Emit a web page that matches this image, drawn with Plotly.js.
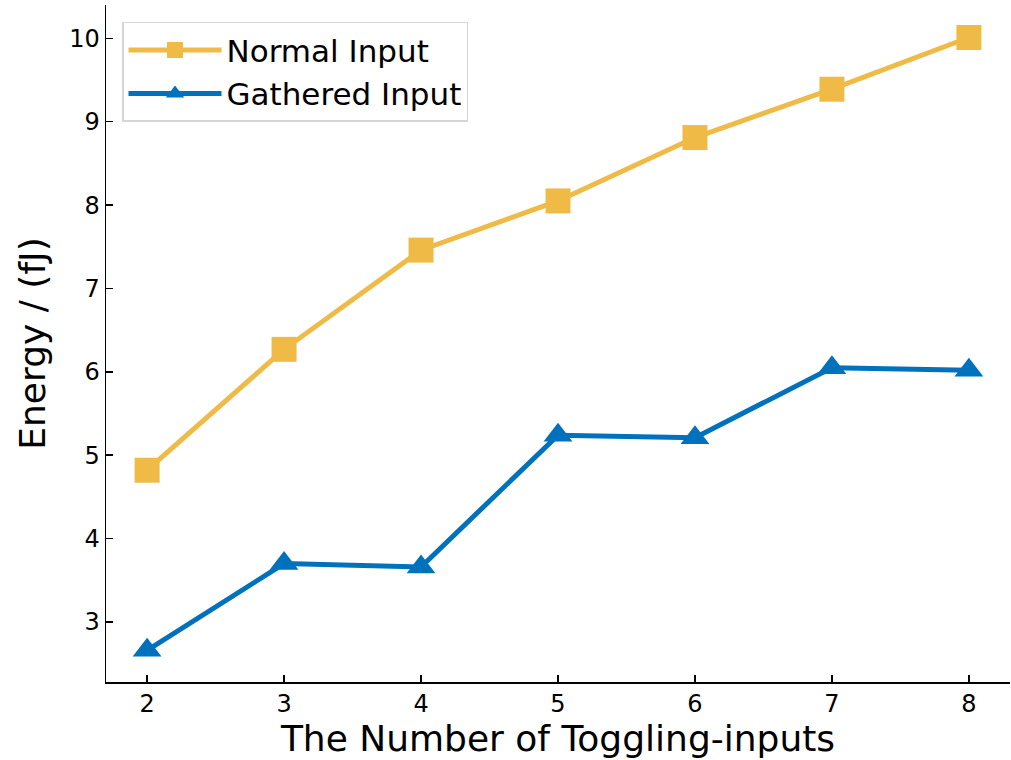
<!DOCTYPE html>
<html>
<head>
<meta charset="utf-8">
<script src="https://cdn.plot.ly/plotly-3.0.1.min.js"></script>
<style>body{margin:0;padding:0;background:#fff;}#chart{width:1011px;height:760px;}</style>
</head>
<body>
<div id="chart"></div>
<script>
const toggles = [2, 3, 4, 5, 6, 7, 8];
const normalInput = [4.82, 6.27, 7.46, 8.05, 8.81, 9.39, 10.01];
const gatheredInput = [2.66, 3.70, 3.66, 5.24, 5.21, 6.05, 6.02];
const xTickLabels = ['2', '3', '4', '5', '6', '7', '8'];
const yTicks = [3, 4, 5, 6, 7, 8, 9, 10];

const traces = [
  {
    x: toggles, y: normalInput, name: 'Normal Input', mode: 'lines+markers',
    line: {color: '#EFBB46', width: 5},
    marker: {symbol: 'square', size: 25, color: '#EFBB46'}
  },
  {
    x: toggles, y: gatheredInput, name: 'Gathered Input', mode: 'lines+markers',
    line: {color: '#0072BD', width: 5},
    marker: {symbol: 'triangle-up', size: 25, color: '#0072BD'}
  }
];

const layout = {
  width: 1011, height: 760,
  margin: {l: 106, r: 1, t: 5, b: 78},
  paper_bgcolor: '#fff', plot_bgcolor: '#fff',
  font: {family: 'DejaVu Sans', color: '#000'},
  showlegend: true,
  legend: {
    x: 0.0177, y: 0.975, xanchor: 'left', yanchor: 'top',
    bordercolor: '#d5d5d5', borderwidth: 1.5, bgcolor: 'rgba(255,255,255,0.8)',
    font: {size: 31, family: 'DejaVu Sans'},
    itemwidth: 93, tracegroupgap: 0
  },
  xaxis: {
    range: [1.7, 8.3], tickmode: 'array', tickvals: toggles, ticktext: xTickLabels,
    showgrid: false, zeroline: false, showline: true, linecolor: '#000', linewidth: 1.5,
    ticks: 'inside', ticklen: 7, tickwidth: 1.5, tickcolor: '#000',
    tickfont: {size: 24, family: 'DejaVu Sans'},
    title: {text: 'The Number of Toggling-inputs', font: {size: 36, family: 'DejaVu Sans'}, standoff: 6}
  },
  yaxis: {
    range: [2.28, 10.4], tickmode: 'array', tickvals: yTicks,
    showgrid: false, zeroline: false, showline: true, linecolor: '#000', linewidth: 1.5,
    ticks: 'inside', ticklen: 7, tickwidth: 1.5, tickcolor: '#000',
    tickfont: {size: 24, family: 'DejaVu Sans'},
    title: {text: 'Energy / (fJ)', font: {size: 36, family: 'DejaVu Sans'}, standoff: 12}
  }
};

Plotly.newPlot('chart', traces, layout, {displayModeBar: false, staticPlot: true});
</script>
</body>
</html>
